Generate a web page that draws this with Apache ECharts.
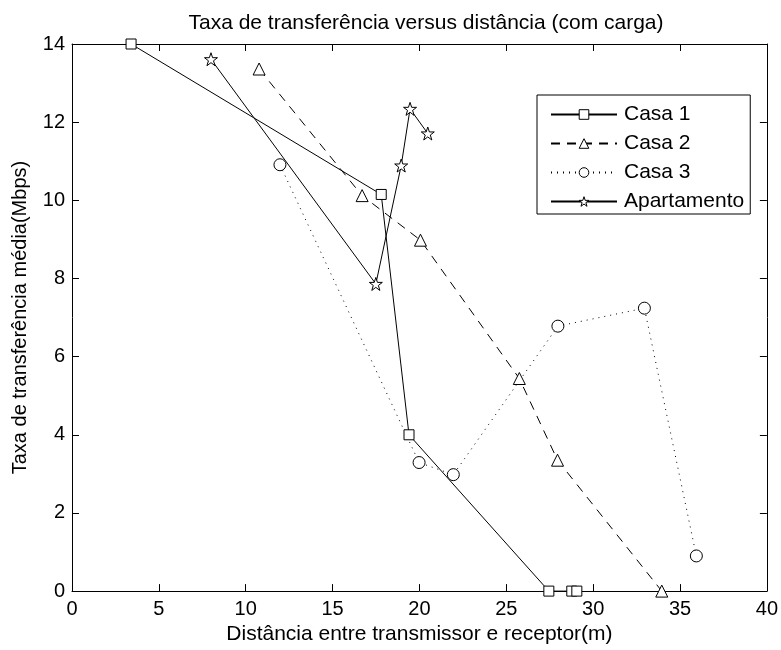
<!DOCTYPE html>
<html>
<head>
<meta charset="utf-8">
<script src="https://cdn.jsdelivr.net/npm/echarts@6/dist/echarts.min.js"></script>
<style>
    html, body { margin:0; padding:0; background:#fff; }
    #main { width:781px; height:650px; }
</style>
</head>
<body>
<div id="main"></div>
<script>
// valores: [distancia (m), taxa (Mbps)]
let casa1 = [[3.4, 14.0], [17.8, 10.15], [19.4, 4.0], [27.45, 0], [28.77, 0], [29.06, 0]];
let casa2 = [[10.77, 13.36], [16.7, 10.12], [20.06, 8.98], [25.75, 5.44], [27.95, 3.35], [33.95, 0]];
let casa3 = [[11.97, 10.91], [19.98, 3.29], [21.95, 2.98], [27.97, 6.78], [32.95, 7.24], [35.94, 0.9]];
let apartamento = [[8.0, 13.61], [17.49, 7.86], [18.95, 10.89], [19.46, 12.34], [20.48, 11.71]];
let seriesNames = ['Casa 1', 'Casa 2', 'Casa 3', 'Apartamento'];

const STAR = 'path://M50,2 L61.8,36.2 L97.6,36.2 L68.6,57.4 L79.6,91.6 L50,70.4 L20.4,91.6 L31.4,57.4 L2.4,36.2 L38.2,36.2 Z';
const FONT = 'Liberation Sans';

let myChart = echarts.init(document.getElementById('main'));

function makeSeries(name, data, symbol, lineType, size){
    return {
        name,
        type:'line',
        data,
        symbol,
        symbolSize:size,
        showSymbol:true,
        animation:false,
        lineStyle:{ color:'#000', width:1, type:lineType },
        itemStyle:{ color:'#fff', borderColor:'#000', borderWidth:1 },
        emphasis:{ disabled:true },
        z:3
    };
}

let axisCommon = {
    axisLine:{ show:true, onZero:false, lineStyle:{ color:'#000', width:1 } },
    axisTick:{ show:true, inside:true, length:7, lineStyle:{ color:'#000' } },
    splitLine:{ show:false }
};

let option = {
    backgroundColor:'#fff',
    textStyle:{ fontFamily:FONT },
    title:{
        text:'Taxa de transferência versus distância (com carga)',
        left:421,
        textAlign:'center',
        top:8,
        textStyle:{ fontFamily:FONT, fontSize:21, fontWeight:'normal', color:'#000' }
    },
    grid:{ left:72, right:13, top:44, bottom:58, containLabel:false },
    legend:{
        left:537,
        top:95,
        orient:'vertical',
        data:seriesNames,
        backgroundColor:'#fff',
        borderColor:'#000',
        borderWidth:1,
        borderRadius:0,
        padding:[9, 6, 2, 13],
        itemGap:8,
        itemWidth:66,
        itemHeight:12,
        selectedMode:false,
        itemStyle:{ color:'#fff', borderColor:'#000', borderWidth:1 },
        textStyle:{ fontFamily:FONT, fontSize:21, color:'#000', padding:[0, 0, 0, 2] }
    },
    xAxis:[
        Object.assign({
            type:'value', min:0, max:40, interval:5,
            name:'Distância entre transmissor e receptor(m)',
            nameLocation:'middle', nameGap:28,
            nameTextStyle:{ fontFamily:FONT, fontSize:21, color:'#000' },
            axisLabel:{ fontFamily:FONT, fontSize:20, color:'#000', margin:8 }
        }, axisCommon),
        Object.assign({
            type:'value', min:0, max:40, interval:5, position:'top',
            axisLabel:{ show:false }
        }, axisCommon)
    ],
    yAxis:[
        Object.assign({
            type:'value', min:0, max:14, interval:2,
            name:'Taxa de transferência média(Mbps)',
            nameLocation:'middle', nameGap:42,
            nameTextStyle:{ fontFamily:FONT, fontSize:20, color:'#000' },
            axisLabel:{ fontFamily:FONT, fontSize:20, color:'#000', margin:7 }
        }, axisCommon),
        Object.assign({
            type:'value', min:0, max:14, interval:2, position:'right',
            axisLabel:{ show:false }
        }, axisCommon)
    ],
    series:[
        makeSeries('Casa 1', casa1, 'rect', 'solid', 10),
        makeSeries('Casa 2', casa2, 'triangle', [9, 7], 12),
        makeSeries('Casa 3', casa3, 'circle', [1, 5], 12),
        makeSeries('Apartamento', apartamento, STAR, 'solid', 13)
    ]
};
myChart.setOption(option);
</script>
</body>
</html>
